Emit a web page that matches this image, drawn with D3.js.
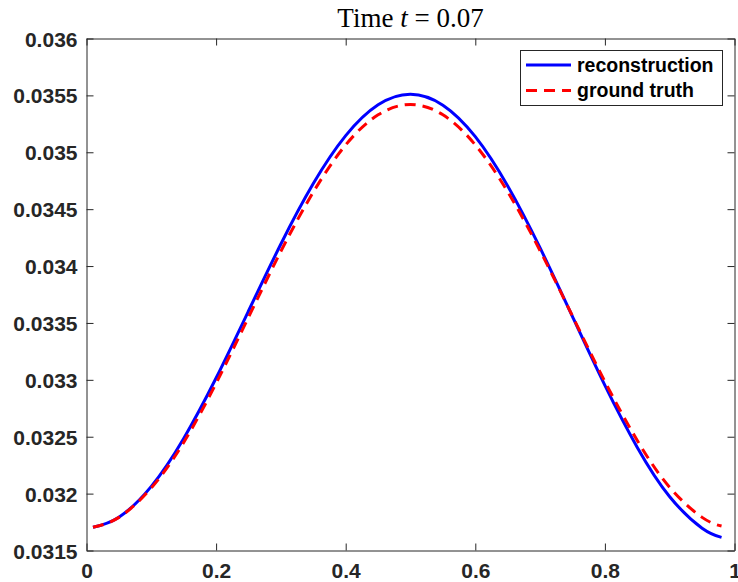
<!DOCTYPE html>
<html><head><meta charset="utf-8">
<script src="https://cdn.jsdelivr.net/npm/d3@7"></script>
<style>body{margin:0;background:#fff}svg{display:block}</style>
</head><body>
<svg id="c" width="738" height="582"></svg>
<script>
const xs = [0.01,0.05,0.1,0.15,0.2,0.25,0.3,0.35,0.4,0.45,0.5,0.55,0.6,0.65,0.7,0.75,0.8,0.85,0.9,0.95,0.98];
const reconstruction = [0.031704,0.031793,0.032064,0.032485,0.033016,0.033605,0.034194,0.034725,0.035146,0.035417,0.03551,0.035414,0.035137,0.034704,0.034159,0.033555,0.032951,0.032406,0.031973,0.031696,0.031615];
const groundTruth = [0.031704,0.031791,0.03205,0.03245,0.03297,0.03355,0.03413,0.03465,0.035065,0.035329,0.03542,0.035329,0.035065,0.034653,0.034135,0.03356,0.032985,0.032467,0.032055,0.031791,0.031715];
const xTicks = [0,0.2,0.4,0.6,0.8,1];
const xTickLabels = ["0","0.2","0.4","0.6","0.8","1"];
const yTicks = [0.0315,0.032,0.0325,0.033,0.0335,0.034,0.0345,0.035,0.0355,0.036];
const yTickLabels = ["0.0315","0.032","0.0325","0.033","0.0335","0.034","0.0345","0.035","0.0355","0.036"];
const seriesNames = ["reconstruction","ground truth"];

const svg = d3.select("#c");
const L=86.5, R=734.5, T=38.5, B=550.5;
const x = d3.scaleLinear().domain([0,1]).range([L,R]);
const y = d3.scaleLinear().domain([0.0315,0.036]).range([B,T]);
const axisColor = "#262626";
const font = "'Liberation Sans', Arial, sans-serif";

// curves
const line = d3.line().x(d=>x(d[0])).y(d=>y(d[1])).curve(d3.curveNatural);
svg.append("path").datum(xs.map((v,i)=>[v,reconstruction[i]]))
  .attr("d",line).attr("fill","none").attr("stroke","#0000ff").attr("stroke-width",3);
svg.append("path").datum(xs.map((v,i)=>[v,groundTruth[i]]))
  .attr("d",line).attr("fill","none").attr("stroke","#ff0000").attr("stroke-width",3)
  .attr("stroke-dasharray","11,7");

// axes
const tl = 7;
const gx = svg.append("g").attr("transform",`translate(0,${B})`)
  .call(d3.axisBottom(x).tickValues(xTicks).tickFormat((d,i)=>xTickLabels[i]).tickSizeInner(-tl).tickSizeOuter(0).tickPadding(12));
const gxt = svg.append("g").attr("transform",`translate(0,${T})`)
  .call(d3.axisTop(x).tickValues(xTicks).tickFormat("").tickSizeInner(-tl).tickSizeOuter(0));
const gy = svg.append("g").attr("transform",`translate(${L},0)`)
  .call(d3.axisLeft(y).tickValues(yTicks).tickFormat((d,i)=>yTickLabels[i]).tickSizeInner(-tl).tickSizeOuter(0).tickPadding(9));
const gyr = svg.append("g").attr("transform",`translate(${R},0)`)
  .call(d3.axisRight(y).tickValues(yTicks).tickFormat("").tickSizeInner(-tl).tickSizeOuter(0));
[gx,gxt,gy,gyr].forEach(g=>{
  g.select(".domain").attr("stroke",axisColor).attr("stroke-width",1);
  g.selectAll(".tick line").attr("stroke",axisColor).attr("stroke-width",1);
  g.selectAll("text").attr("fill",axisColor).style("font-family",font).style("font-size","21px").style("font-weight","bold");
});
gy.selectAll("text").attr("dy","0.36em");
gx.selectAll("text").attr("dy","0.72em");

// title
const title = svg.append("text").attr("x",(L+R)/2).attr("y",27).attr("text-anchor","middle")
  .style("font-family","'Liberation Serif','DejaVu Serif',serif").style("font-size","27px").attr("fill","#000");
title.append("tspan").text("Time ");
title.append("tspan").style("font-style","italic").text("t");
title.append("tspan").text(" = 0.07");

// legend
const lg = svg.append("g");
lg.append("rect").attr("x",520.5).attr("y",50.5).attr("width",202).attr("height",55)
  .attr("fill","#fff").attr("stroke",axisColor).attr("stroke-width",1);
const colors=["#0000ff","#ff0000"], dashes=[null,"11,7"];
seriesNames.forEach((n,i)=>{
  const yy = 65 + i*25.5;
  lg.append("line").attr("x1",526).attr("x2",571).attr("y1",yy).attr("y2",yy)
    .attr("stroke",colors[i]).attr("stroke-width",3).attr("stroke-dasharray",dashes[i]);
  lg.append("text").attr("x",577).attr("y",yy).attr("dy","0.35em").text(n)
    .style("font-family",font).style("font-size","19.5px").style("font-weight","bold").attr("fill","#000");
});
</script>
</body></html>
